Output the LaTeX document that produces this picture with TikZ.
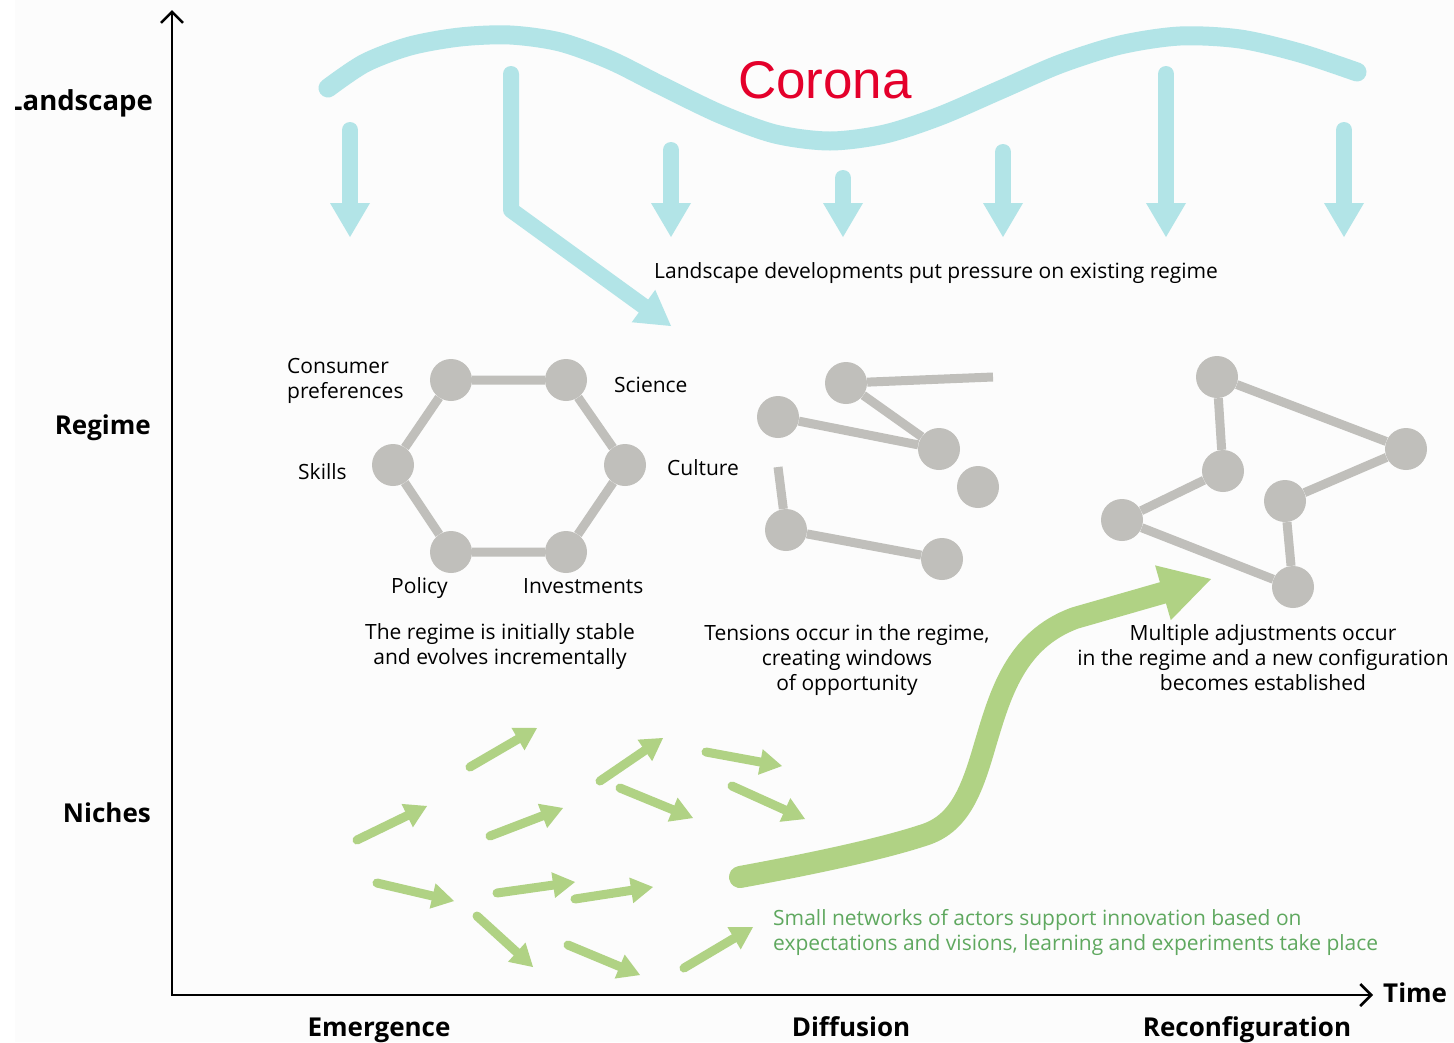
\documentclass[tikz,border=0pt]{standalone}
\usepackage{fontspec}
\setmainfont{Open Sans}
\newfontfamily\coronafont{Liberation Sans}
\usetikzlibrary{arrows.meta, positioning}
\definecolor{landcyan}{RGB}{178,228,231}
\definecolor{netgray}{RGB}{192,191,187}
\definecolor{nichegreen}{RGB}{176,210,132}
\definecolor{nichetext}{RGB}{95,168,95}
\definecolor{coronared}{RGB}{228,0,43}
\definecolor{paper}{RGB}{252,252,252}
\tikzset{
    axis/.style={
        draw=black, line width=2.5pt,
        {Straight Barb[length=11pt,width=22pt]}-{Straight Barb[length=11pt,width=22pt]}
    },
    levellabel/.style={font=\fontsize{26}{30}\selectfont\bfseries, anchor=base east, inner sep=0pt},
    phaselabel/.style={font=\fontsize{26}{30}\selectfont\bfseries, anchor=base, inner sep=0pt},
    txt/.style={font=\fontsize{21}{25}\selectfont, anchor=base, inner sep=0pt, align=center},
    actorlabel/.style={txt, anchor=base west, align=left},
    actor/.style={circle, fill=netgray, minimum size=42pt, inner sep=0pt},
    tie/.style={draw=netgray, line width=9pt},
    wave/.style={draw=landcyan, line width=19pt, line cap=round},
    pressure/.style={
        draw=landcyan, line width=16pt, line cap=round, line join=round,
        -{Triangle[length=34pt,width=40pt,line width=0pt]}
    },
    niche/.style={
        draw=nichegreen, line width=9pt, line cap=round,
        -{Triangle[length=22pt,width=26pt,line width=0pt]}
    },
    breakthrough/.style={
        draw=nichegreen, line width=22pt, line cap=round,
        -{Triangle[length=50pt,width=57pt,line width=0pt]}
    }
}

\begin{document}
\begin{tikzpicture}[x=1pt,y=-1pt]

\useasboundingbox (0,0) rectangle (1454,1042);
\fill[paper] (15,0) rectangle (1454,1042);

% Axes
\coordinate (ytop) at (172,10);
\coordinate (origin) at (172,995);
\coordinate (xend) at (1373,995);
\draw[axis] (ytop) -- (origin) -- (xend);

\begin{scope}
\clip (15,0) rectangle (172,200);
\node[levellabel, font=\fontsize{27.5}{30}\selectfont\bfseries] (landscape) at (153,110) {Landscape};
\end{scope}
\node[levellabel] (regime) at (151,434) {Regime};
\node[levellabel] (niches) at (151,822) {Niches};
\node[phaselabel, anchor=base west] (time) at (1383,1002) {Time};
\node[phaselabel] (emergence) at (379,1036) {Emergence};
\node[phaselabel] (diffusion) at (851,1036) {Diffusion};
\node[phaselabel] (reconfig) at (1247,1036) {Reconfiguration};

% Landscape
\draw[wave] plot[smooth] coordinates {(328,88) (365,63) (410,46) (460,37) (510,35)
    (560,42) (610,60) (660,85) (720,114) (775,134) (830,141) (885,134) (940,116)
    (1000,90) (1060,64) (1120,45) (1180,36) (1240,39) (1300,53) (1357,72)};
\node[font=\coronafont\fontsize{53}{60}\selectfont, text=coronared, anchor=base, inner sep=0pt]
    (corona) at (825,98) {Corona};

\foreach \x/\top [count=\i] in {350/130, 671/150, 843/178, 1003/152, 1166/74, 1344/130} {
    \coordinate (ps\i) at (\x,\top);
    \coordinate (pe\i) at (\x,237);
    \draw[pressure] (ps\i) -- (pe\i);
}
\coordinate (bentstart) at (511,74);
\coordinate (bentknee) at (511,210);
\coordinate (benttip) at (671,326);
\draw[pressure] (bentstart) -- (bentknee) -- (benttip);
\node[txt, anchor=base west] (pressuretxt) at (654,278) {Landscape developments put pressure on existing regime};

% Stable regime
\node[actor] (consumer) at (451,380) {};
\node[actor] (science) at (566,380) {};
\node[actor] (culture) at (625,465) {};
\node[actor] (invest) at (566,552) {};
\node[actor] (policy) at (451,552) {};
\node[actor] (skills) at (393,465) {};
\draw[tie] (consumer) -- (science) -- (culture) -- (invest) -- (policy) -- (skills) -- (consumer);

% (multi-line texts sit on the baseline of their last line)
\node[actorlabel] (consumerlbl) at (287,398) {Consumer\\preferences};
\node[actorlabel] (sciencelbl) at (614,392) {Science};
\node[actorlabel] (culturelbl) at (667,475) {Culture};
\node[actorlabel] (skillslbl) at (298,479) {Skills};
\node[actorlabel] (policylbl) at (391,593) {Policy};
\node[actorlabel] (investlbl) at (523,593) {Investments};
\node[txt] (stabletxt) at (500,664) {The regime is initially stable\\and evolves incrementally};

% Regime under tension
\node[actor] (t1) at (846,383) {};
\node[actor] (t2) at (778,417) {};
\node[actor] (t3) at (939,449) {};
\node[actor] (t4) at (978,487) {};
\node[actor] (t5) at (786,530) {};
\node[actor] (t6) at (942,559) {};
\coordinate (t1loose) at (993,377);
\coordinate (t5loose) at (778,467);
\draw[tie] (t1loose) -- (t1) -- (t3) -- (t2);
\draw[tie] (t5loose) -- (t5) -- (t6);
\node[txt] (tensiontxt) at (847,690) {Tensions occur in the regime,\\creating windows\\of opportunity};

% New configuration
\node[actor] (n1) at (1217,377) {};
\node[actor] (n2) at (1406,449) {};
\node[actor] (n3) at (1223,471) {};
\node[actor] (n4) at (1285,501) {};
\node[actor] (n5) at (1122,520) {};
\node[actor] (n6) at (1293,587) {};
\draw[tie] (n3) -- (n1) -- (n2) -- (n4) -- (n6) -- (n5) -- (n3);
\node[txt] (newtxt) at (1263,690) {Multiple adjustments occur\\in the regime and a new configuration\\becomes established};

% Niches
\foreach \sx/\sy/\ex/\ey [count=\i] in {357/840/427/806, 470/767/537/728, 490/836/563/808,
    600/781/663/738, 620/788/693/818, 706/752/782/766, 732/786/805/819, 377/883/454/901,
    497/893/575/882, 575/899/653/887, 477/916/533/967, 568/945/640/975, 684/968/753/927} {
    \coordinate (ns\i) at (\sx,\sy);
    \coordinate (ne\i) at (\ex,\ey);
    \draw[niche] (ns\i) -- (ne\i);
}
\coordinate (bstart) at (740,877);
\coordinate (btip) at (1211,579);
\draw[breakthrough] (bstart) .. controls (800,866) and (880,850) .. (927,834)
    .. controls (960,822) and (972,790) .. (985,745)
    .. controls (1000,695) and (1015,640) .. (1075,618) -- (btip);
\node[txt, anchor=base west, align=left, text=nichetext] (nichetxt) at (773,950)
    {Small networks of actors support innovation based on\\expectations and visions, learning and experiments take place};

\end{tikzpicture}
\end{document}
